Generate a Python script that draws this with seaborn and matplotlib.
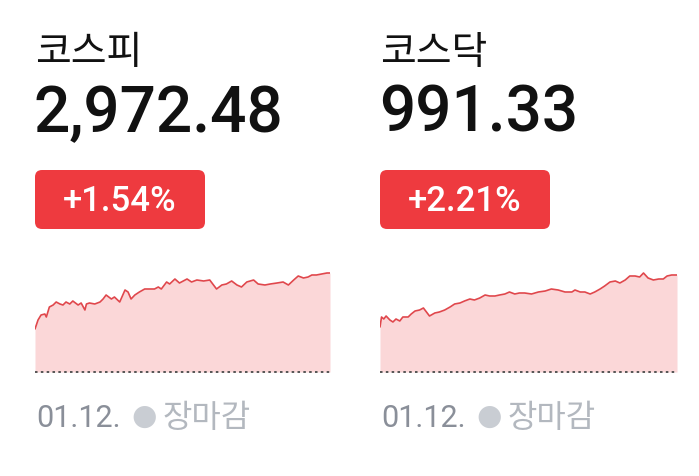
import matplotlib
matplotlib.use('Agg')
import matplotlib.pyplot as plt
import seaborn as sns
from matplotlib.patches import FancyBboxPatch

# 데이터 (장중 경과 분, 차트 높이 값)
kospi_minutes = [0, 4, 8, 13, 15, 19, 24, 28, 33, 37, 41, 46, 50, 57, 61, 66, 68, 72, 79, 86,
                 90, 94, 101, 105, 112, 119, 123, 127, 132, 138, 145, 152, 158, 163, 167, 174, 178, 185, 191,
                 201, 207, 214, 223, 231, 240, 247, 253, 260, 267, 273, 280, 289, 295, 304, 311, 320, 328,
                 335, 342, 348, 355, 361, 366, 372, 379, 386, 390]
kospi_values = [43, 52, 57, 58, 55, 65, 67, 70, 68, 67, 70, 68, 71, 67, 69, 62, 68, 69, 68, 70,
                73, 77, 73, 75, 70, 82, 80, 73, 77, 80, 83, 83, 83, 85, 83, 90, 88, 93, 89,
                93, 90, 92, 91, 92, 83, 87, 88, 91, 87, 85, 90, 92, 88, 87, 88, 89, 90,
                87, 92, 96, 94, 95, 97, 97, 98, 99, 99]

kosdaq_minutes = [0, 2, 5, 8, 13, 17, 21, 26, 30, 37, 41, 46, 52, 57, 61, 65, 72, 78, 85, 92,
                  98, 105, 111, 118, 124, 131, 138, 144, 151, 157, 164, 170, 177, 183, 190,
                  199, 208, 217, 225, 234, 243, 252, 256, 263, 269, 276, 282, 289, 295, 302, 309, 315, 322,
                  328, 335, 341, 346, 352, 359, 366, 372, 377, 383, 390]
kosdaq_values = [45, 55, 53, 56, 52, 50, 53, 51, 55, 55, 58, 61, 62, 64, 60, 56, 59, 60, 62, 65,
                 68, 69, 71, 73, 72, 74, 77, 76, 76, 77, 78, 80, 78, 79, 79,
                 78, 80, 81, 83, 82, 80, 80, 82, 80, 80, 78, 80, 83, 86, 90, 91, 89, 92,
                 96, 96, 95, 99, 94, 92, 93, 93, 96, 97, 97]

index_names = ['코스피', '코스닥']
index_prices = ['2,972.48', '991.33']
index_changes = ['+1.54%', '+2.21%']
dates = ['01.12.', '01.12.']
status = '장마감'

sns.set_style('white')
kr_font = ['Noto Sans CJK KR', 'DejaVu Sans']
num_font = ['Roboto', 'DejaVu Sans']

line_color = '#e0474c'
fill_color = '#fbd7d8'
badge_color = '#ee3a3f'

fig = plt.figure(figsize=(6.99, 4.76), dpi=100)
fig.patch.set_facecolor('white')

# 텍스트용 전체 좌표계 (픽셀 단위)
canvas = fig.add_axes([0, 0, 1, 1])
canvas.set_xlim(0, 699)
canvas.set_ylim(476, 0)
canvas.axis('off')

panel_left = [35, 380]
panel_width = [295, 297]
series = [(kospi_minutes, kospi_values), (kosdaq_minutes, kosdaq_values)]

for i in range(2):
    x0 = panel_left[i]

    canvas.text(x0, 53, index_names[i], fontsize=28, family=kr_font,
                color='#111111', va='center', ha='left')
    canvas.text(x0 - 1, 132, index_prices[i], fontsize=46, family=num_font,
                fontweight='medium', color='#111111', va='baseline', ha='left')

    badge = FancyBboxPatch((x0, 170), 170, 59, boxstyle='round,pad=0,rounding_size=7',
                           facecolor=badge_color, edgecolor='none')
    canvas.add_patch(badge)
    canvas.text(x0 + 85, 211, index_changes[i], fontsize=25, family=num_font,
                fontweight='medium', color='white', va='baseline', ha='center')

    canvas.text(x0 + 1, 427, dates[i], fontsize=22, family=num_font,
                color='#8a8f99', va='baseline', ha='left')
    canvas.text(x0 + 109, 417, '●', fontsize=21, family=['DejaVu Sans'],
                color='#c9cdd3', va='center', ha='center')
    canvas.text(x0 + 128, 418, status, fontsize=23, family=kr_font,
                color='#b3b8bf', va='center', ha='left')

    # 스파크라인
    ax = fig.add_axes([x0 / 699, (476 - 372) / 476, panel_width[i] / 699, 112 / 476])
    t, v = series[i]
    ax.fill_between(t, v, 0, color=fill_color, linewidth=0)
    sns.lineplot(x=t, y=v, ax=ax, color=line_color, linewidth=1.2)
    ax.axhline(0, color='#555555', linewidth=1.4, linestyle=(0, (1.3, 1.7)), clip_on=False)
    ax.set_xlim(0, 390)
    ax.set_ylim(0, 112)
    ax.axis('off')

fig.savefig('out.png', dpi=100, facecolor='white')
